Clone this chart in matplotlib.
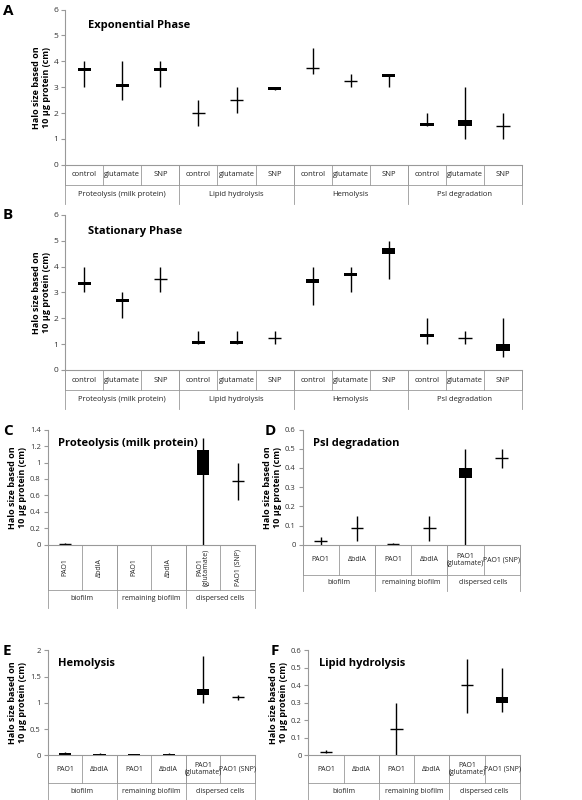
import numpy as np
import matplotlib
matplotlib.use("Agg")
import matplotlib.pyplot as plt

plt.rcParams['font.family'] = ['Open Sans', 'DejaVu Sans']

nan = np.nan

# top panels: four assays x three treatments
sub_ab = ["control", "glutamate", "SNP"] * 4
groups_ab = ["Proteolysis (milk protein)", "Lipid hydrolysis", "Hemolysis", "Psl degradation"]

# each point: low, high, box bottom, box top (equal box values -> tick)
a_low = [3, 2.5, 3, 1.5, 2, 2.9, 3.5, 3, 3, 1.5, 1, 1]
a_high = [4, 4, 4, 2.5, 3, 3.0, 4.5, 3.5, 3.5, 2, 3, 2]
a_blo = [3.62, 3.0, 3.62, 2.0, 2.5, 2.9, 3.75, 3.25, 3.4, 1.5, 1.5, 1.5]
a_bhi = [3.75, 3.12, 3.75, 2.0, 2.5, 3.0, 3.75, 3.25, 3.5, 1.62, 1.75, 1.5]

b_low = [3, 2, 3, 1, 1, 1, 2.5, 3, 3.5, 1, 1, 0.5]
b_high = [4, 3, 4, 1.5, 1.5, 1.5, 4, 4, 5, 2, 1.5, 2]
b_blo = [3.27, 2.62, 3.5, 1.02, 1.02, 1.25, 3.37, 3.62, 4.5, 1.27, 1.25, 0.75]
b_bhi = [3.4, 2.75, 3.5, 1.12, 1.12, 1.25, 3.5, 3.75, 4.7, 1.4, 1.25, 1.0]

# lower panels: strains
sub_cf = ["PAO1", "ΔbdlA", "PAO1", "ΔbdlA", "PAO1\n(glutamate)", "PAO1 (SNP)"]
groups_cf = ["biofilm", "remaining biofilm", "dispersed cells"]
group_sizes_cf = [2, 2, 2]

c_low = [0, nan, nan, nan, 0, 0.55]
c_high = [0.02, nan, nan, nan, 1.3, 1.0]
c_blo = [0.01, nan, nan, nan, 0.85, 0.77]
c_bhi = [0.01, nan, nan, nan, 1.15, 0.77]

d_low = [0, 0.02, 0, 0.02, 0, 0.4]
d_high = [0.04, 0.15, 0.01, 0.15, 0.5, 0.5]
d_blo = [0.02, 0.09, 0.005, 0.09, 0.35, 0.45]
d_bhi = [0.02, 0.09, 0.005, 0.09, 0.40, 0.45]

e_low = [0, 0, 0.005, 0, 1.0, 1.05]
e_high = [0.07, 0.04, 0.015, 0.04, 1.9, 1.15]
e_blo = [0.01, 0.005, 0.005, 0.005, 1.15, 1.11]
e_bhi = [0.04, 0.025, 0.015, 0.025, 1.27, 1.11]

f_low = [0.01, nan, 0, nan, 0.24, 0.25]
f_high = [0.03, nan, 0.3, nan, 0.55, 0.5]
f_blo = [0.02, nan, 0.15, nan, 0.4, 0.3]
f_bhi = [0.02, nan, 0.15, nan, 0.4, 0.335]

GRAY = "#999999"
YLAB = "Halo size based on\n10 µg protein (cm)"


def panel(rect, letter, lpos, title, low, high, blo, bhi, subs, groups, sizes,
          ymax, step, r1, r2, rotate=False, boxw=0.35, fs=6):
    ax = fig.add_axes(rect)
    n = len(subs)
    x = np.arange(n) + 0.5
    ax.vlines(x, low, high, color="black", lw=1)
    for xi, lo, hi in zip(x, blo, bhi):
        if np.isnan(lo):
            continue
        if hi - lo < 1e-9:
            ax.hlines(lo, xi - boxw / 2, xi + boxw / 2, color="black", lw=1)
        else:
            ax.bar(xi, hi - lo, bottom=lo, width=boxw, color="black")
    ax.set_xlim(0, n)
    ax.set_ylim(0, ymax)
    ticks = np.arange(0, ymax + step / 2, step)
    ax.set_yticks(ticks)
    ax.set_yticklabels([f"{v:g}" for v in ticks])
    ax.tick_params(axis="y", labelsize=fs, length=3, pad=2, color=GRAY,
                   labelcolor="#333333")
    ax.set_xticks([])
    for s in ["top", "right"]:
        ax.spines[s].set_visible(False)
    ax.spines["left"].set_color(GRAY)
    ax.spines["bottom"].set_color(GRAY)
    ax.set_ylabel(YLAB, fontsize=6.5, fontweight="bold", labelpad=2,
                  linespacing=1.1)
    ax.text(0.05, 0.93, title, transform=ax.transAxes, fontsize=8,
            fontweight="bold", va="top")
    tr = ax.get_xaxis_transform()
    # sub-category row
    for i in range(n + 1):
        ax.plot([i, i], [0, r1], color=GRAY, lw=0.6, transform=tr, clip_on=False)
    for i, s in enumerate(subs):
        ax.text(i + 0.5, r1 / 2, s, transform=tr, ha="center", va="center",
                fontsize=fs - 0.5, rotation=90 if rotate else 0, color="#222222",
                linespacing=1.0)
    # group row
    ax.plot([0, n], [r1, r1], color=GRAY, lw=0.6, transform=tr, clip_on=False)
    edges = np.concatenate([[0], np.cumsum(sizes)])
    for e in edges:
        ax.plot([e, e], [0, r2], color=GRAY, lw=0.6, transform=tr, clip_on=False)
    for g, a, b in zip(groups, edges[:-1], edges[1:]):
        ax.text((a + b) / 2, (r1 + r2) / 2, g, transform=tr, ha="center",
                va="center", fontsize=fs - 0.5, color="#222222")
    fig.text(lpos[0], lpos[1], letter, fontsize=11, fontweight="bold", va="top")
    return ax


fig = plt.figure(figsize=(5.82, 8), dpi=100)

panel([0.112, 0.794, 0.785, 0.194], "A", (0.005, 0.995), "Exponential Phase",
      a_low, a_high, a_blo, a_bhi, sub_ab, groups_ab, [3, 3, 3, 3],
      6, 1, -0.13, -0.25)
panel([0.112, 0.5375, 0.785, 0.194], "B", (0.005, 0.74), "Stationary Phase",
      b_low, b_high, b_blo, b_bhi, sub_ab, groups_ab, [3, 3, 3, 3],
      6, 1, -0.13, -0.25)
panel([0.082, 0.319, 0.356, 0.144], "C", (0.005, 0.47), "Proteolysis (milk protein)",
      c_low, c_high, c_blo, c_bhi, sub_cf, groups_cf, group_sizes_cf,
      1.4, 0.2, -0.39, -0.55, rotate=True, fs=5.5)
panel([0.52, 0.319, 0.373, 0.144], "D", (0.455, 0.47), "Psl degradation",
      d_low, d_high, d_blo, d_bhi, sub_cf, groups_cf, group_sizes_cf,
      0.6, 0.1, -0.26, -0.40, fs=5.5)
panel([0.082, 0.056, 0.356, 0.131], "E", (0.005, 0.195), "Hemolysis",
      e_low, e_high, e_blo, e_bhi, sub_cf, groups_cf, group_sizes_cf,
      2, 0.5, -0.27, -0.43, fs=5.5)
panel([0.53, 0.056, 0.363, 0.131], "F", (0.465, 0.195), "Lipid hydrolysis",
      f_low, f_high, f_blo, f_bhi, sub_cf, groups_cf, group_sizes_cf,
      0.6, 0.1, -0.27, -0.43, fs=5.5)

fig.savefig("out.png", dpi=100)
